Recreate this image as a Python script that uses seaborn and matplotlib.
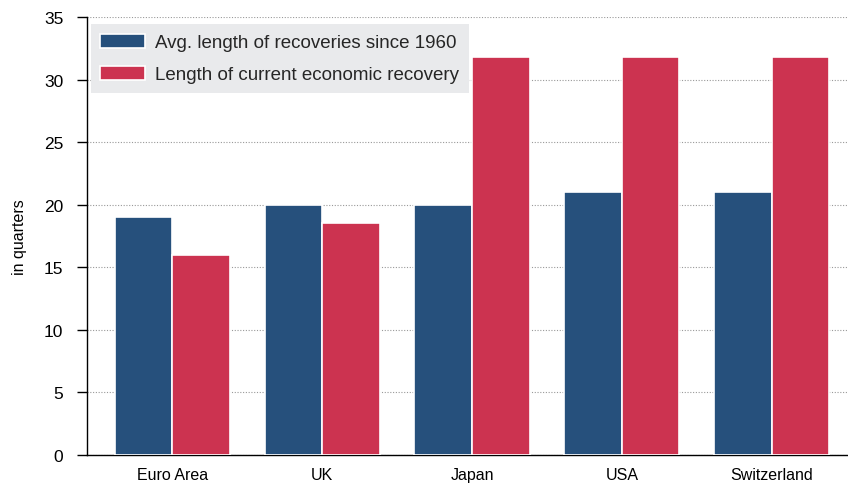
import matplotlib
matplotlib.use("Agg")
import matplotlib.pyplot as plt
import seaborn as sns
import pandas as pd

# Data (in quarters)
countries = ["Euro Area", "UK", "Japan", "USA", "Switzerland"]
avg_recovery = [19, 20, 20, 21, 21]
current_recovery = [16, 18.5, 31.8, 31.8, 31.8]
series_names = ["Avg. length of recoveries since 1960",
                "Length of current economic recovery"]

df = pd.DataFrame({
    "country": countries * 2,
    "quarters": avg_recovery + current_recovery,
    "series": [series_names[0]] * len(countries) + [series_names[1]] * len(countries),
})

sns.set_style("white")
plt.rcParams['font.family'] = ['Liberation Sans', 'DejaVu Sans']

fig = plt.figure(figsize=(8.48, 4.85), dpi=100)
ax = fig.add_axes([0.1026, 0.0598, 0.8974, 0.9032])

palette = ["#26507c", "#cc3350"]
sns.barplot(data=df, x="country", y="quarters", hue="series", palette=palette,
            width=0.77, saturation=1, edgecolor="white", linewidth=1.2,
            ax=ax, zorder=3)

ax.set_ylim(0, 35)
ax.set_xlim(-0.57, 4.51)
ax.set_yticks(range(0, 36, 5))
ax.yaxis.grid(True, linestyle=(0, (1, 1.5)), color="#999999", linewidth=0.8, zorder=0)
ax.set_axisbelow(True)

for s in ["top", "right"]:
    ax.spines[s].set_visible(False)
ax.spines["left"].set_color("black")
ax.spines["bottom"].set_color("black")
ax.spines["left"].set_linewidth(1)
ax.spines["bottom"].set_linewidth(1)

ax.tick_params(axis="y", left=True, length=7, width=1, color="black",
               labelsize=12.5, pad=10, labelcolor="black")
ax.tick_params(axis="x", bottom=False, labelsize=11.5, pad=5, labelcolor="black")

ax.set_xlabel("")
ax.set_ylabel("in quarters", fontsize=11.5, labelpad=12, color="black")

leg = ax.legend(loc="upper left", bbox_to_anchor=(0.005, 0.983), frameon=True,
                fancybox=False, fontsize=13.5, handlelength=2.4, handleheight=0.8,
                borderpad=0.5, labelspacing=0.75, handletextpad=0.55,
                borderaxespad=0)
leg.get_frame().set_facecolor("#e9eaec")
leg.get_frame().set_edgecolor("none")
leg.get_frame().set_alpha(1)

fig.savefig("out.png", dpi=100)
